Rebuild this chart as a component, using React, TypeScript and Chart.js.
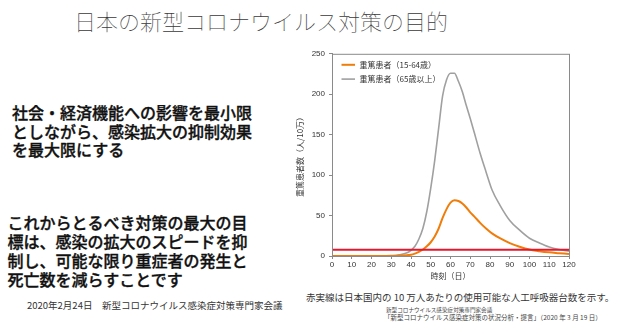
import React, { useEffect, useRef } from "react";
import { Chart, registerables } from "chart.js";

Chart.register(...registerables);

// ---- data ----
const days = [0, 10, 20, 25, 30, 34, 38, 40, 42, 44, 46, 48, 50, 52, 54, 56, 58, 60, 62, 64, 66, 68, 70, 72, 75, 78, 81, 85, 90, 95, 100, 105, 110, 115, 120];
const severeElderly = [0, 0, 0, 0, 0.5, 1.5, 4, 7, 12, 21, 34, 55, 84, 118, 158, 198, 218, 226, 226, 216, 203, 186, 170, 153, 127, 104, 82, 63, 44, 32, 22, 16, 11, 8, 6];
const severeWorking = [0, 0, 0, 0, 0, 0.3, 1, 1.5, 3, 5, 8, 12, 17, 24, 34, 47, 58, 66, 69, 68, 65, 60, 54, 49, 41, 34, 28, 22, 16, 11.5, 8, 6, 4.5, 3.5, 2.5];
const ventilatorDays = [0, 120];
const ventilatorLevel = 7.8;
const seriesLabels = ["重篤患者（15-64歳）", "重篤患者（65歳以上）"];
const yTicks = [0, 50, 100, 150, 200, 250];
const xTicks = [0, 10, 20, 30, 40, 50, 60, 70, 80, 90, 100, 110, 120];

const FONT = "'Liberation Sans', 'Noto Sans CJK JP', sans-serif";
const JP = "'Noto Sans CJK JP', sans-serif";

const framePlugin = {
  id: "frame",
  afterDraw(chart: any) {
    const { ctx, chartArea } = chart;
    ctx.save();
    ctx.strokeStyle = "#8a8a8a";
    ctx.lineWidth = 1;
    ctx.strokeRect(chartArea.left + 0.5, chartArea.top + 0.5, chartArea.right - chartArea.left, chartArea.bottom - chartArea.top);
    ctx.restore();
  },
};

const insideLegend = {
  id: "insideLegend",
  afterDraw(chart: any) {
    const { ctx, chartArea } = chart;
    const items = chart.data.datasets.filter((d: any) => d.label);
    ctx.save();
    ctx.font = "8px " + JP;
    ctx.textBaseline = "middle";
    items.forEach((d: any, i: number) => {
      const y = chartArea.top + 11 + i * 14.3;
      const x0 = chartArea.left + 9.5;
      ctx.strokeStyle = d.borderColor;
      ctx.lineWidth = d.borderWidth;
      ctx.beginPath();
      ctx.moveTo(x0, y);
      ctx.lineTo(x0 + 13.5, y);
      ctx.stroke();
      ctx.fillStyle = "#333";
      ctx.fillText(d.label, x0 + 18, y);
    });
    ctx.restore();
  },
};

function ChartView() {
  const ref = useRef<HTMLCanvasElement | null>(null);
  useEffect(() => {
    if (!ref.current) return;
    const chart = new Chart(ref.current, {
      type: "line",
      data: {
        datasets: [
          {
            label: seriesLabels[0],
            data: days.map((d, i) => ({ x: d, y: severeWorking[i] })),
            borderColor: "#f07d0a",
            borderWidth: 2,
            pointRadius: 0,
            cubicInterpolationMode: "monotone",
            order: 1,
          },
          {
            label: seriesLabels[1],
            data: days.map((d, i) => ({ x: d, y: severeElderly[i] })),
            borderColor: "#a0a0a0",
            borderWidth: 1.6,
            pointRadius: 0,
            cubicInterpolationMode: "monotone",
            order: 2,
          },
          {
            label: "",
            data: ventilatorDays.map((d) => ({ x: d, y: ventilatorLevel })),
            borderColor: "#e3172d",
            borderWidth: 2,
            pointRadius: 0,
            order: 0,
          },
        ],
      },
      options: {
        animation: false,
        responsive: false,
        maintainAspectRatio: false,
        layout: { padding: { left: 0, top: 8, right: 56, bottom: 0 } },
        plugins: { legend: { display: false }, tooltip: { enabled: false } },
        scales: {
          x: {
            type: "linear",
            min: 0,
            max: 120,
            afterBuildTicks: (s: any) => {
              s.ticks = xTicks.map((v) => ({ value: v }));
            },
            afterFit: (s: any) => {
              s.height = 29;
            },
            grid: { drawOnChartArea: false, drawTicks: true, tickLength: 3, color: "#8a8a8a" },
            border: { display: true, color: "#8a8a8a" },
            ticks: { color: "#333", font: { size: 8, family: FONT }, padding: 1, maxRotation: 0, autoSkip: false },
            title: { display: true, text: "時刻（日）", color: "#333", font: { size: 8, family: JP }, padding: { top: 0, bottom: 4 } },
          },
          y: {
            min: 0,
            max: 250,
            afterBuildTicks: (s: any) => {
              s.ticks = yTicks.map((v) => ({ value: v }));
            },
            afterFit: (s: any) => {
              s.width = 52;
            },
            grid: { drawOnChartArea: false, drawTicks: true, tickLength: 3, color: "#8a8a8a" },
            border: { display: true, color: "#8a8a8a" },
            ticks: { color: "#333", font: { size: 8, family: FONT }, padding: 4 },
            title: { display: true, text: "重篤患者数（人/10万）", color: "#333", font: { size: 8, family: JP }, padding: { top: 15, bottom: 0 } },
          },
        },
      },
      plugins: [framePlugin, insideLegend],
    } as any);
    return () => chart.destroy();
  }, []);
  return <canvas ref={ref} width={345} height={240} style={{ position: "absolute", left: 280, top: 45, width: 345, height: 240 }} />;
}

const abs = (o: React.CSSProperties): React.CSSProperties => ({ position: "absolute", whiteSpace: "nowrap", fontFamily: JP, margin: 0, ...o });

export default function App() {
  return (
    <div style={{ position: "fixed", left: 0, top: 0, width: 625, height: 335, background: "#fff", overflow: "hidden" }}>
      <div style={abs({ left: 0, width: 522, textAlign: "center", top: 7, fontSize: 22, lineHeight: "26px", fontWeight: 100, color: "#3a3a3a" })}>
        日本の新型コロナウイルス対策の目的
      </div>
      <div style={abs({ left: 12, top: 103, fontSize: 16, lineHeight: "18.5px", fontWeight: 500, color: "#111", WebkitTextStroke: "0.35px #111" })}>
        社会・経済機能への影響を最小限
        <br />
        としながら、感染拡大の抑制効果
        <br />
        を最大限にする
      </div>
      <div style={abs({ left: 7.5, top: 213, fontSize: 16, lineHeight: "19px", fontWeight: 500, color: "#111", WebkitTextStroke: "0.35px #111" })}>
        これからとるべき対策の最大の目
        <br />
        標は、感染の拡大のスピードを抑
        <br />
        制し、可能な限り重症者の発生と
        <br />
        死亡数を減らすことです
      </div>
      <div style={abs({ left: 27, top: 299, fontSize: 9.5, lineHeight: "12px", color: "#333" })}>
        2020年2月24日　新型コロナウイルス感染症対策専門家会議
      </div>
      <ChartView />
      <div style={abs({ left: 306, top: 291, fontSize: 9.5, lineHeight: "12px", color: "#333" })}>
        赤実線は日本国内の 10 万人あたりの使用可能な人工呼吸器台数を示す。
      </div>
      <div style={abs({ left: 386, top: 306, fontSize: 5.6, lineHeight: "8px", color: "#444" })}>
        新型コロナウイルス感染症対策専門家会議
      </div>
      <div style={abs({ left: 384, top: 312.5, fontSize: 6.5, lineHeight: "8px", color: "#444" })}>
        「新型コロナウイルス感染症対策の状況分析・提言」（2020 年 3 月 19 日）
      </div>
    </div>
  );
}
